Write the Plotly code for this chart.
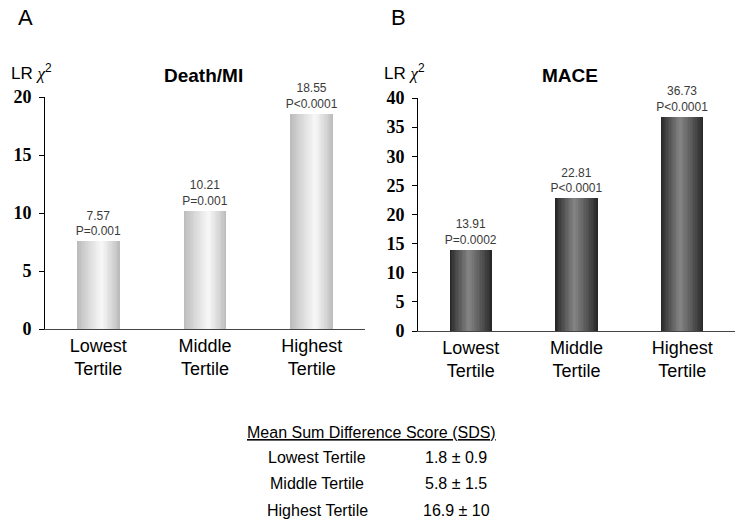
import plotly.graph_objects as go

# ---------------- data ----------------
categories = ["Lowest<br>Tertile", "Middle<br>Tertile", "Highest<br>Tertile"]
death_mi_values = [7.57, 10.21, 18.55]
death_mi_pvals = ["P=0.001", "P=0.001", "P<0.0001"]
mace_values = [13.91, 22.81, 36.73]
mace_pvals = ["P=0.0002", "P<0.0001", "P<0.0001"]

table_title = "Mean Sum Difference Score (SDS)"
table_rows = ["Lowest Tertile", "Middle Tertile", "Highest Tertile"]
table_values = ["1.8 ± 0.9", "5.8 ± 1.5", "16.9 ± 10"]

W, H = 746, 529
SANS = "Liberation Sans, Arial, sans-serif"
SERIF = "Liberation Serif, Times New Roman, serif"


def px_x(x):
    return x / W


def px_y(y):
    return 1 - y / H


def lerp_color(c1, c2, t):
    return "rgb(%d,%d,%d)" % tuple(round(a + (b - a) * t) for a, b in zip(c1, c2))


fig = go.Figure()

BAR_W = 0.4
N = 14


def add_panel(values, pvals, xaxis, yaxis, edge, peak, p):
    for k in range(N):
        f = 1 - k / N
        left = -BAR_W / 2 + BAR_W * p * (1 - f)
        right = BAR_W / 2 - BAR_W * (1 - p) * (1 - f)
        t = k / (N - 1)
        col = lerp_color(edge, peak, t ** 0.9)
        first = k == 0
        if first:
            kw = dict(text=[f"{v:.2f}<br>{pv}" for v, pv in zip(values, pvals)],
                      textposition="outside", constraintext="none",
                      textfont=dict(family=SANS, size=12, color="#3a3a3a"))
        else:
            kw = dict(textposition="none")
        fig.add_trace(go.Bar(
            x=categories, y=values,
            offset=left,
            width=right - left,
            marker=dict(color=col, line=dict(width=0)),
            xaxis=xaxis, yaxis=yaxis,
            cliponaxis=False,
            showlegend=False,
            hoverinfo="skip",
            **kw,
        ))


add_panel(death_mi_values, death_mi_pvals, "x", "y",
          (188, 188, 188), (246, 246, 246), 0.58)
add_panel(mace_values, mace_pvals, "x2", "y2",
          (40, 40, 40), (130, 130, 130), 0.45)

xcommon = dict(showline=True, linecolor="#444444", linewidth=1, ticks="",
               showgrid=False, zeroline=False, range=[-0.5, 2.5], automargin=False,
               tickfont=dict(family=SANS, size=18, color="black"), fixedrange=True)
ycommon = dict(showline=True, linecolor="black", linewidth=1, ticks="outside",
               ticklen=5, tickcolor="black", showgrid=False, zeroline=False,
               automargin=False,
               tickfont=dict(family=SERIF, size=18, color="black", weight="bold"),
               ticklabelstandoff=4, fixedrange=True)

fig.update_layout(
    width=W, height=H, autosize=False,
    margin=dict(l=0, r=0, t=0, b=0, pad=0, autoexpand=False),
    paper_bgcolor="white", plot_bgcolor="white",
    barmode="overlay",
    bargap=0,
    xaxis=dict(domain=[px_x(45), px_x(365)], anchor="y", **xcommon),
    yaxis=dict(domain=[px_y(329), px_y(97)], anchor="x", range=[0, 20],
               tickvals=[0, 5, 10, 15, 20], **ycommon),
    xaxis2=dict(domain=[px_x(418), px_x(735)], anchor="y2", **xcommon),
    yaxis2=dict(domain=[px_y(331), px_y(98)], anchor="x2", range=[0, 40],
                tickvals=[0, 5, 10, 15, 20, 25, 30, 35, 40], **ycommon),
)

ann = []
for label, x in (("A", 16), ("B", 389)):
    ann.append(dict(text=label, x=px_x(x), y=px_y(18), xref="paper", yref="paper",
                    xanchor="left", yanchor="middle", showarrow=False,
                    font=dict(family=SANS, size=22, color="black")))
for x in (9, 382):
    ann.append(dict(text="LR <span style='font-family:Liberation Serif'><i>χ</i></span><sup>2</sup>",
                    x=px_x(x), y=px_y(72), xref="paper", yref="paper",
                    xanchor="left", yanchor="middle", showarrow=False,
                    font=dict(family=SANS, size=17, color="black")))
for title, x in (("Death/MI", 203), ("MACE", 570)):
    ann.append(dict(text=f"<b>{title}</b>", x=px_x(x), y=px_y(75), xref="paper", yref="paper",
                    xanchor="center", yanchor="middle", showarrow=False,
                    font=dict(family=SANS, size=19, color="black")))

ann.append(dict(text=f"<u>{table_title}</u>", x=px_x(371), y=px_y(432),
                xref="paper", yref="paper", xanchor="center", yanchor="middle",
                showarrow=False, font=dict(family=SANS, size=16, color="black")))
row_y = [457, 483, 510]
for name, val, y in zip(table_rows, table_values, row_y):
    ann.append(dict(text=name, x=px_x(317), y=px_y(y), xref="paper", yref="paper",
                    xanchor="center", yanchor="middle", showarrow=False,
                    font=dict(family=SANS, size=16, color="black")))
    ann.append(dict(text=val, x=px_x(456), y=px_y(y), xref="paper", yref="paper",
                    xanchor="center", yanchor="middle", showarrow=False,
                    font=dict(family=SANS, size=16, color="black")))

fig.update_layout(annotations=ann)

fig.write_html(
    "out.html",
    config={"displayModeBar": False, "staticPlot": True},
    post_script=(
        "document.body.style.margin='0';document.body.style.padding='0';"
        "document.body.style.overflow='hidden';"
        "var d=document.getElementById('{plot_id}');"
        "d.style.position='fixed';d.style.top='0px';d.style.left='0px';"
    ),
)
